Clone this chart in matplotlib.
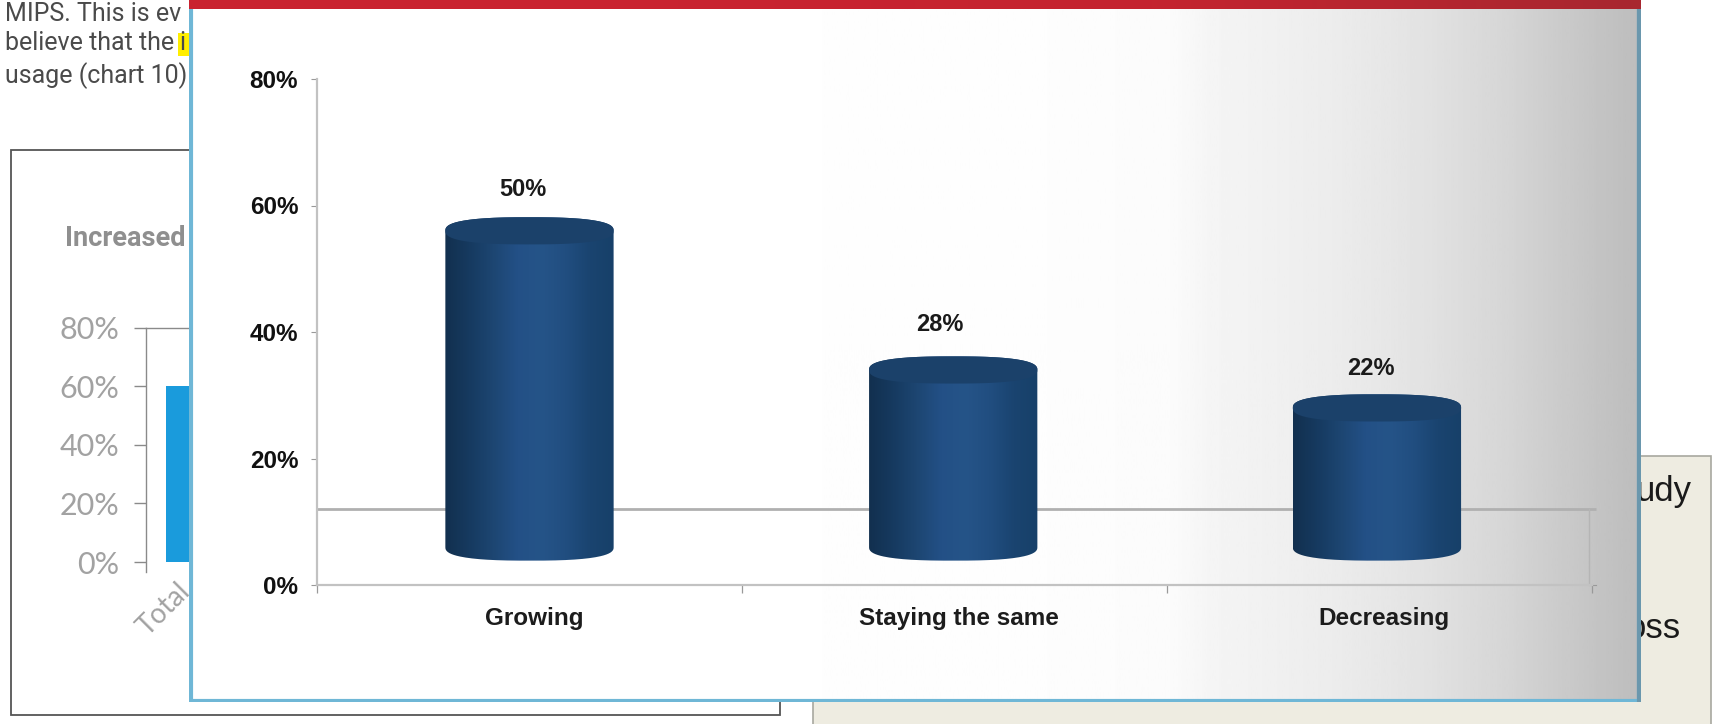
import numpy as np
import matplotlib
matplotlib.use("Agg")
import matplotlib.pyplot as plt
from matplotlib.colors import LinearSegmentedColormap
from matplotlib.patches import PathPatch, Polygon, Rectangle
from matplotlib.path import Path

W, H = 1712, 724
categories = ["Growing", "Staying the same", "Decreasing"]
values = [50, 28, 22]
y_ticks = [0, 20, 40, 60, 80]
back_ticks = [0, 20, 40, 60, 80]
back_categories = ["Total"]
back_values = [60]

fig = plt.figure(figsize=(W / 100, H / 100), dpi=100, facecolor="white")


def px_axes(x0, y_top, x1, y_bottom, z):
    return fig.add_axes([x0 / W, 1 - y_bottom / H, (x1 - x0) / W, (y_bottom - y_top) / H], zorder=z)


# ---- page behind the panel
bg = px_axes(0, 0, W, H, 0)
bg.set_xlim(0, W)
bg.set_ylim(H, 0)
bg.axis("off")
bg.add_patch(Rectangle((11, 150), 769, 565, fc="white", ec="#555555", lw=1.3))
bg.add_patch(Rectangle((813, 456), 898, 280, fc="#eeece1", ec="#a8a8a0", lw=1.2))
bg.add_patch(Rectangle((178, 33), 12, 23, fc="#ffee00", ec="none"))
body_font = ["Liberation Sans Narrow", "Roboto"]
for y, s in [(14, "MIPS. This is ev"), (43, "believe that the"), (76, "usage (chart 10)")]:
    bg.text(5, y, s, fontsize=18, color="#4a4a4a", family=body_font, va="center", ha="left")
bg.text(179, 43, "i", fontsize=18, color="#4a4a4a", family=body_font, va="center", ha="left")
bg.text(65, 238, "Increased", fontsize=19.5, color="#8f8f8f", weight="bold", family=body_font, va="center", ha="left")
bg.text(1692, 492, "udy", fontsize=25, color="#1a1a1a", family="Liberation Sans", va="center", ha="right")
bg.text(1681, 629, "oss", fontsize=25, color="#1a1a1a", family="Liberation Sans", va="center", ha="right")

# ---- partly hidden chart behind the panel
back = px_axes(146, 327.5, 189, 572, 1)
back.patch.set_alpha(0)
back.set_xlim(-0.87, 1.0)
back.set_ylim(-10 * 80 / 234.5, 80)
back.bar(range(len(back_values)), back_values, width=1.5, align="edge", color="#1a9bdc")
for s in ["right", "bottom"]:
    back.spines[s].set_visible(False)
for s in ["left", "top"]:
    back.spines[s].set_color("#8a8a8a")
    back.spines[s].set_linewidth(1.0)
back.set_yticks(back_ticks)
back.set_yticklabels([f"{t}%" for t in back_ticks], fontsize=22, color="#a2a2a2", family="Lato")
back.tick_params(axis="y", length=9, width=1.0, color="#8a8a8a", pad=10)
back.set_xticks([0.478])
back.set_xticklabels(back_categories, rotation=45, ha="right", rotation_mode="anchor",
                     fontsize=20, color="#a2a2a2", family="Lato")
back.tick_params(axis="x", length=0, pad=4)

# ---- panel
panel = px_axes(189, 0, 1641, 702, 2)
xs = np.linspace(189, 1641, 600)
shade = np.interp(xs, [189, 1000, 1172, 1210, 1337, 1421, 1505, 1589, 1641],
                  [1.0, 0.995, 0.985, 0.96, 0.925, 0.89, 0.84, 0.775, 0.74])
panel.imshow(shade[None, :], extent=[189, 1641, 702, 0], aspect="auto", cmap="gray", vmin=0, vmax=1, zorder=0)
panel.set_xlim(189, 1641)
panel.set_ylim(702, 0)
panel.axis("off")
panel.add_patch(Rectangle((191, 0), 1448, 701, fc="none", ec="#6fb7d6", lw=3.0, zorder=2, clip_on=True))
panel.plot([1639.5, 1639.5], [0, 702], color="#6a97ad", lw=3.0, zorder=2.5)
red = LinearSegmentedColormap.from_list("red", ["#c9222f", "#c9222f", "#c4242f", "#a8272f"])
panel.imshow(np.linspace(0, 1, 300)[None, :], extent=[189, 1641, 9, 0], aspect="auto", cmap=red, zorder=3)
panel.set_xlim(189, 1641)
panel.set_ylim(702, 0)

# ---- main chart
ax = px_axes(317, 79, 1592, 585, 3)
ax.patch.set_alpha(0)
ax.set_xlim(-0.5, 2.5)
ax.set_ylim(0, 80)
for s in ["top", "right"]:
    ax.spines[s].set_visible(False)
for s in ["left", "bottom"]:
    ax.spines[s].set_color("#c2c2c2")
    ax.spines[s].set_linewidth(1.6)
ax.set_yticks(y_ticks)
ax.set_yticklabels([f"{t}%" for t in y_ticks], fontsize=17.5, weight="bold", family="Liberation Sans", color="#111111")
ax.tick_params(axis="y", length=4, width=0.8, color="#999999", pad=9.5)
ax.set_xticks([i + 0.011 for i in range(len(categories))])
ax.set_xticklabels(categories, fontsize=17.5, weight="bold", family="Liberation Sans", color="#1c1c1c")
ax.tick_params(axis="x", length=0, pad=16)
ax.set_xticks([-0.5, 0.5, 1.5, 2.5], minor=True)
ax.tick_params(axis="x", which="minor", length=6, width=0.9, color="#999999")

# floor of the 3-D chart
floor_y = 12
ax.plot([-0.5, 2.51], [floor_y, floor_y], color="#b0b0b0", lw=2.0, zorder=1, solid_capstyle="butt", clip_on=False)
ax.plot([2.4935, 2.4935], [0, floor_y], color="#b5b5b5", lw=1.0, zorder=1)
ax.plot([2.4935, 2.51], [0, 0], color="#999999", lw=0.8, zorder=1, clip_on=False)

# cylinders
depth = 6
half_w = 0.198
rim = 2.15
side = LinearSegmentedColormap.from_list(
    "side", ["#12304f", "#163a60", "#1d4672", "#235086", "#255488", "#214e80", "#1a4470", "#174069"])
t = np.linspace(0, np.pi, 80)
power = 2 / 2.6
cos_t = np.sign(np.cos(t)) * np.abs(np.cos(t)) ** power
sin_t = np.sin(t) ** power
for i, v in enumerate(values):
    c = i * 0.997
    y_top = v + depth
    arc_x = c + half_w * cos_t
    verts = np.concatenate([
        np.column_stack([arc_x[::-1], depth - rim * sin_t[::-1]]),
        np.column_stack([arc_x, y_top + rim * sin_t]),
    ])
    path = Path(np.vstack([verts, verts[0]]))
    im = ax.imshow(np.linspace(0, 1, 200)[None, :], extent=[c - half_w, c + half_w, depth - rim, y_top + rim],
                   aspect="auto", cmap=side, zorder=2)
    im.set_clip_path(PathPatch(path, transform=ax.transData))
    cap = np.concatenate([
        np.column_stack([arc_x, y_top + rim * sin_t]),
        np.column_stack([arc_x[::-1], y_top - rim * sin_t[::-1]]),
    ])
    ax.add_patch(Polygon(cap, closed=True, fc="#1b416a", ec="none", zorder=3))
ax.set_xlim(-0.5, 2.5)
ax.set_ylim(0, 80)

label_lift = 12.8
lift_nudge = [-0.3, 0.4, -0.5]
label_nudge = [-0.015, -0.034, -0.02]
for i, v in enumerate(values):
    ax.text(i + label_nudge[i], v + label_lift + lift_nudge[i], f"{v}%", ha="center", va="center", fontsize=17,
            weight="bold", family="Liberation Sans", color="#1a1a1a", zorder=5)

fig.savefig("out.png", dpi=100, facecolor="white")
